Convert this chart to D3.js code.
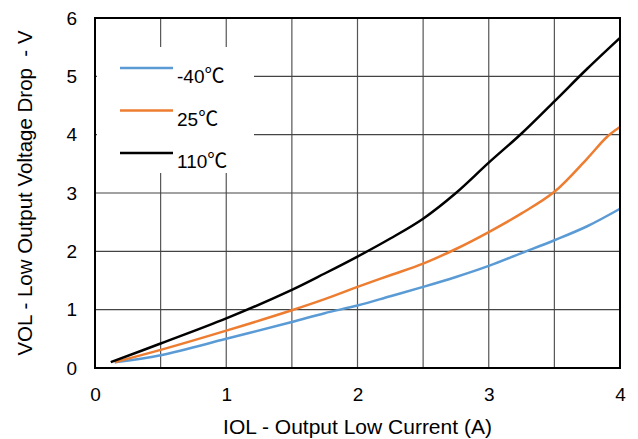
<!DOCTYPE html>
<html>
<head>
<meta charset="utf-8">
<script src="https://cdn.jsdelivr.net/npm/d3@7"></script>
<style>
  body { margin: 0; background: #fff; }
  svg { display: block; font-family: "Liberation Sans", Arial, sans-serif; }
</style>
</head>
<body>
<div class="plot"></div>
<script>
// DATA
var seriesTemps = ["-40", "25", "110"];
var unitSign = "\u2103";
var seriesColors = ["#5b9bd5", "#ed7d31", "#000000"];

var iolCold = [0.15, 0.5, 1, 1.5, 1.75, 2, 2.25, 2.5, 2.75, 3, 3.25, 3.5, 3.75, 4];
var volCold = [0.1, 0.22, 0.5, 0.79, 0.94, 1.07, 1.23, 1.39, 1.56, 1.75, 1.97, 2.19, 2.43, 2.73];

var iolRoom = [0.15, 0.5, 1, 1.5, 1.75, 2, 2.25, 2.5, 2.75, 3, 3.25, 3.5, 3.75, 3.9, 4];
var volRoom = [0.1, 0.31, 0.64, 0.99, 1.18, 1.39, 1.59, 1.79, 2.04, 2.33, 2.65, 3.02, 3.59, 3.96, 4.13];

var iolHot = [0.12, 0.5, 1, 1.5, 1.75, 2, 2.25, 2.5, 2.75, 3, 3.25, 3.5, 3.75, 4];
var volHot = [0.1, 0.42, 0.85, 1.34, 1.62, 1.91, 2.22, 2.56, 3.0, 3.52, 4.02, 4.57, 5.13, 5.66];

var xTicks = [0, 1, 2, 3, 4];
var xGrid = [0.5, 1, 1.5, 2, 2.5, 3, 3.5];
var yTicks = [0, 1, 2, 3, 4, 5, 6];
var yGrid = [1, 2, 3, 4, 5];

var xTitle = "IOL - Output Low Current (A)";
var yTitle = "VOL - Low Output Voltage Drop\u00a0 - V";

// GLOBAL VARIABLES
var w = 638;
var h = 439;
var margin = {left: 95, right: 18, top: 18, bottom: 71};

var series = [
  {temp: seriesTemps[0], color: seriesColors[0], x: iolCold, y: volCold},
  {temp: seriesTemps[1], color: seriesColors[1], x: iolRoom, y: volRoom},
  {temp: seriesTemps[2], color: seriesColors[2], x: iolHot, y: volHot}
];

var svg = d3.select(".plot").append("svg").attr("width", w).attr("height", h);

// SCALES
var xScale = d3.scaleLinear().domain([0, 4]).range([margin.left, w - margin.right]);
var yScale = d3.scaleLinear().domain([0, 6]).range([h - margin.bottom, margin.top]);

// GRIDLINES
svg.append("g").selectAll("line")
  .data(xGrid)
  .enter()
  .append("line")
  .attr("x1", function (d) {return xScale(d)})
  .attr("x2", function (d) {return xScale(d)})
  .attr("y1", yScale(0))
  .attr("y2", yScale(6))
  .attr("stroke", "#555")
  .attr("stroke-width", 1.2);

svg.append("g").selectAll("line")
  .data(yGrid)
  .enter()
  .append("line")
  .attr("x1", xScale(0))
  .attr("x2", xScale(4))
  .attr("y1", function (d) {return yScale(d)})
  .attr("y2", function (d) {return yScale(d)})
  .attr("stroke", "#444")
  .attr("stroke-width", 1.2);

// LEGEND BOX (white, covers gridlines)
svg.append("rect")
  .attr("x", xScale(0) + 2)
  .attr("y", 47)
  .attr("width", 157)
  .attr("height", 126)
  .attr("fill", "#fff");

// LINES
var line = d3.line()
  .x(function (d) {return xScale(d[0])})
  .y(function (d) {return yScale(d[1])})
  .curve(d3.curveCatmullRom.alpha(0.5));

svg.append("g").selectAll("path")
  .data(series)
  .enter()
  .append("path")
  .attr("d", function (s) {return line(s.x.map(function (v, i) {return [v, s.y[i]]}))})
  .attr("fill", "none")
  .attr("stroke", function (s) {return s.color})
  .attr("stroke-width", 2.5)
  .attr("stroke-linejoin", "round");

// FRAME
svg.append("rect")
  .attr("x", xScale(0))
  .attr("y", yScale(6))
  .attr("width", xScale(4) - xScale(0))
  .attr("height", yScale(0) - yScale(6))
  .attr("fill", "none")
  .attr("stroke", "#000")
  .attr("stroke-width", 2);

// AXES
var xAxis = d3.axisBottom(xScale).tickValues(xTicks).tickSize(0).tickPadding(20).tickFormat(d3.format("d"));
var yAxis = d3.axisLeft(yScale).tickValues(yTicks).tickSize(0).tickPadding(18).tickFormat(d3.format("d"));

var gx = svg.append("g")
  .attr("transform", "translate(0," + yScale(0) + ")")
  .call(xAxis);
var gy = svg.append("g")
  .attr("transform", "translate(" + xScale(0) + ",0)")
  .call(yAxis);

[gx, gy].forEach(function (g) {
  g.select(".domain").remove();
  g.selectAll("text")
    .attr("font-family", "Liberation Sans, Arial, sans-serif")
    .attr("font-size", "19px")
    .attr("fill", "#000");
});

// axis titles
svg.append("text")
  .attr("x", (xScale(0) + xScale(4)) / 2 + 0)
  .attr("y", 434)
  .attr("font-size", "21px")
  .style("text-anchor", "middle")
  .text(xTitle);

svg.append("text")
  .attr("transform", "translate(32," + ((yScale(0) + yScale(6)) / 2) + ") rotate(-90)")
  .attr("font-size", "20.5px")
  .style("text-anchor", "middle")
  .text(yTitle);

// LEGEND
var legend = svg.append("g").selectAll("g")
  .data(series)
  .enter()
  .append("g")
  .attr("transform", function (d, i) {return "translate(120," + (68 + i * 42.5) + ")"});

legend.append("line")
  .attr("x1", 0)
  .attr("x2", 53)
  .attr("stroke", function (d) {return d.color})
  .attr("stroke-width", 2.5);

var label = legend.append("text")
  .attr("x", 57)
  .attr("y", 15)
  .attr("font-size", "19px");
label.append("tspan").text(function (d) {return d.temp});
label.append("tspan")
  .attr("font-family", "Noto Sans CJK SC")
  .attr("font-size", "20px")
  .text(unitSign);
</script>
</body>
</html>
